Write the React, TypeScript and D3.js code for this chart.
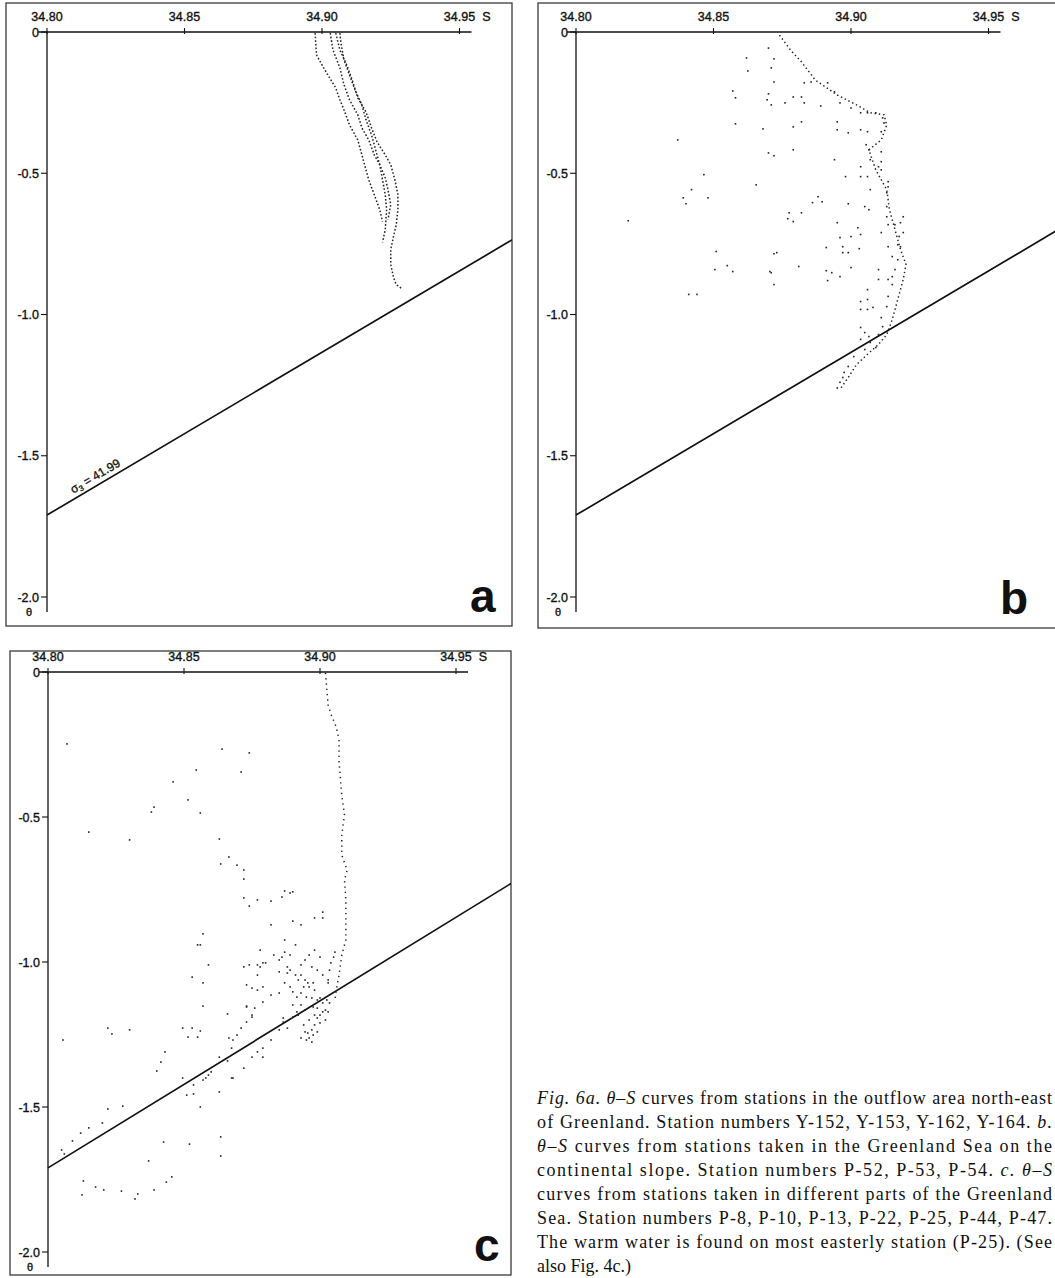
import React from 'react';
import * as d3 from 'd3';

// ---------- axis ticks ----------
const S_TICKS = [34.8, 34.85, 34.9, 34.95];
const S_TICK_LABELS = ['34.80', '34.85', '34.90', '34.95'];
const THETA_TICKS = [0, -0.5, -1.0, -1.5, -2.0];
const THETA_TICK_LABELS = ['0', '-0.5', '-1.0', '-1.5', '-2.0'];
const SIGMA3_VALUE = '41.99';
const SIGMA3_LINE: [number, number][] = [[34.8, -1.71], [34.98, -0.673]];

// ---------- panel a : stations Y-152, Y-153, Y-162, Y-164 ----------
const A_Y152: [number, number][] = [[34.8975,-0.004],[34.898,-0.081],[34.901,-0.134],[34.905,-0.198],[34.9065,-0.240],[34.908,-0.276],[34.910,-0.329],[34.913,-0.382],[34.9145,-0.435],[34.916,-0.488],[34.917,-0.523],[34.919,-0.576],[34.921,-0.629],[34.922,-0.671]];
const A_Y153: [number, number][] = [[34.903,-0.004],[34.904,-0.064],[34.9065,-0.127],[34.908,-0.187],[34.910,-0.240],[34.913,-0.293],[34.9145,-0.339],[34.917,-0.382],[34.919,-0.435],[34.921,-0.470],[34.923,-0.516],[34.924,-0.558],[34.925,-0.611],[34.924,-0.664]];
const A_Y162: [number, number][] = [[34.905,-0.004],[34.9065,-0.064],[34.909,-0.117],[34.911,-0.170],[34.913,-0.233],[34.916,-0.283],[34.918,-0.339],[34.920,-0.389],[34.923,-0.435],[34.925,-0.470],[34.9265,-0.523],[34.9276,-0.576],[34.9276,-0.629],[34.927,-0.682],[34.926,-0.724],[34.925,-0.770],[34.925,-0.823],[34.926,-0.869],[34.927,-0.894],[34.929,-0.908]];
const A_Y164: [number, number][] = [[34.9065,-0.004],[34.907,-0.046],[34.908,-0.099],[34.910,-0.152],[34.912,-0.205],[34.9145,-0.258],[34.916,-0.311],[34.918,-0.364],[34.9195,-0.417],[34.921,-0.470],[34.922,-0.523],[34.923,-0.576],[34.9235,-0.629],[34.923,-0.700],[34.922,-0.745]];

// ---------- panel b : stations P-52, P-53, P-54 ----------
const B_MAIN: [number, number][] = [[34.874,-0.011],[34.878,-0.064],[34.882,-0.106],[34.887,-0.170],[34.895,-0.223],[34.902,-0.258],[34.907,-0.286],[34.912,-0.293],[34.913,-0.329],[34.911,-0.382],[34.9065,-0.417],[34.909,-0.488],[34.913,-0.558],[34.914,-0.629],[34.916,-0.700],[34.918,-0.770],[34.920,-0.823],[34.919,-0.876],[34.917,-0.947],[34.915,-1.018],[34.913,-1.071],[34.910,-1.106],[34.906,-1.141],[34.902,-1.177],[34.899,-1.223],[34.896,-1.265]];
const B_POINTS: [number, number][] = [
  [34.870,-0.057],[34.872,-0.095],[34.862,-0.092],[34.8625,-0.138],[34.871,-0.127],[34.872,-0.177],[34.857,-0.209],[34.858,-0.233],[34.870,-0.219],[34.871,-0.258],
  [34.858,-0.325],[34.868,-0.343],[34.837,-0.382],[34.870,-0.428],[34.872,-0.438],[34.8465,-0.505],[34.8655,-0.541],[34.842,-0.558],[34.848,-0.587],[34.839,-0.587],
  [34.840,-0.608],[34.819,-0.668],[34.851,-0.777],[34.872,-0.785],[34.855,-0.827],[34.857,-0.848],[34.8505,-0.841],[34.871,-0.852],[34.841,-0.929],[34.844,-0.929],
  [34.883,-0.180],[34.8855,-0.177],[34.8915,-0.180],[34.894,-0.212],[34.896,-0.251],[34.900,-0.269],[34.9035,-0.286],[34.906,-0.286],[34.909,-0.286],[34.9115,-0.304],
  [34.912,-0.322],[34.879,-0.230],[34.882,-0.230],[34.876,-0.251],[34.883,-0.251],[34.889,-0.262],[34.8695,-0.240],[34.882,-0.318],[34.879,-0.336],[34.895,-0.318],
  [34.895,-0.346],[34.899,-0.357],[34.9035,-0.346],[34.906,-0.353],[34.911,-0.353],[34.9055,-0.399],[34.9065,-0.417],[34.911,-0.424],[34.907,-0.452],[34.911,-0.459],
  [34.9035,-0.477],[34.910,-0.477],[34.911,-0.488],[34.9035,-0.512],[34.906,-0.512],[34.9135,-0.530],[34.9135,-0.548],[34.907,-0.558],[34.913,-0.569],[34.879,-0.417],
  [34.894,-0.452],[34.898,-0.512],[34.888,-0.583],[34.886,-0.604],[34.8895,-0.601],[34.899,-0.608],[34.8775,-0.640],[34.882,-0.640],[34.877,-0.661],[34.879,-0.671],
  [34.895,-0.675],[34.9025,-0.693],[34.905,-0.618],[34.9065,-0.629],[34.913,-0.618],[34.913,-0.654],[34.919,-0.654],[34.918,-0.675],[34.9135,-0.682],[34.916,-0.682],
  [34.919,-0.710],[34.9175,-0.724],[34.896,-0.728],[34.900,-0.724],[34.9035,-0.717],[34.911,-0.710],[34.897,-0.760],[34.897,-0.781],[34.899,-0.781],[34.891,-0.763],
  [34.903,-0.767],[34.917,-0.753],[34.918,-0.760],[34.9135,-0.760],[34.915,-0.795],[34.917,-0.806],[34.873,-0.781],[34.881,-0.830],[34.8705,-0.848],[34.872,-0.894],
  [34.891,-0.845],[34.893,-0.852],[34.896,-0.866],[34.8915,-0.880],[34.900,-0.834],[34.910,-0.841],[34.916,-0.841],[34.915,-0.866],[34.9135,-0.876],[34.915,-0.894],
  [34.910,-0.876],[34.906,-0.912],[34.9035,-0.954],[34.906,-0.947],[34.9135,-0.936],[34.9035,-0.982],[34.906,-0.982],[34.908,-0.975],[34.913,-0.972],[34.911,-1.011],
  [34.9115,-1.043],[34.9035,-1.046],[34.905,-1.064],[34.9065,-1.078],[34.910,-1.071],[34.9035,-1.088],[34.907,-1.099],[34.909,-1.117],[34.905,-1.124],[34.901,-1.149],
  [34.899,-1.184],[34.8975,-1.205],[34.897,-1.223],[34.896,-1.240],[34.895,-1.260]
];

// ---------- panel c : stations P-8, P-10, P-13, P-22, P-25, P-44, P-47 ----------
const C_COLUMN: [number, number][] = [[34.902,-0.003],[34.903,-0.114],[34.904,-0.145],[34.906,-0.190],[34.907,-0.234],[34.907,-0.310],[34.908,-0.424],[34.909,-0.493],[34.908,-0.562],[34.908,-0.631],[34.910,-0.683],[34.909,-0.717],[34.9095,-0.786],[34.9095,-0.855],[34.9095,-0.924],[34.908,-0.976],[34.907,-1.045],[34.906,-1.096],[34.9055,-1.131]];
const C_UPPER: [number, number][] = [
  [34.864,-0.266],[34.874,-0.279],[34.8545,-0.338],[34.871,-0.345],[34.846,-0.379],[34.8515,-0.441],[34.839,-0.466],[34.838,-0.483],[34.856,-0.486],[34.830,-0.579],
  [34.863,-0.576],[34.8665,-0.638],[34.8635,-0.662],[34.8695,-0.666],[34.872,-0.683],[34.872,-0.714],[34.872,-0.779],[34.874,-0.807],[34.877,-0.786],[34.882,-0.790],
  [34.886,-0.776],[34.887,-0.755],[34.889,-0.762],[34.890,-0.758],[34.882,-0.872],[34.890,-0.859],[34.893,-0.872],[34.898,-0.848],[34.901,-0.848],[34.901,-0.828],
  [34.857,-0.903],[34.855,-0.941],[34.856,-0.941],[34.859,-1.010],[34.853,-1.052],[34.857,-1.072],[34.873,-1.079],[34.877,-1.045],[34.878,-1.017],[34.878,-0.959],
  [34.885,-0.993],[34.887,-0.966],[34.888,-1.038],[34.807,-0.248],[34.815,-0.552]
];
const C_CLUSTER: [number, number][] = [
  [34.893,-1.045],[34.8945,-1.062],[34.8955,-1.072],[34.894,-1.086],[34.896,-1.086],[34.8975,-1.072],[34.898,-1.097],[34.893,-1.107],[34.895,-1.121],[34.897,-1.124],
  [34.899,-1.131],[34.900,-1.124],[34.901,-1.141],[34.9025,-1.131],[34.8915,-1.121],[34.890,-1.103],[34.889,-1.086],[34.887,-1.072],[34.8975,-1.155],[34.899,-1.159],
  [34.901,-1.172],[34.902,-1.166],[34.898,-1.183],[34.899,-1.193],[34.900,-1.210],[34.898,-1.217],[34.897,-1.234],[34.8955,-1.245],[34.896,-1.262],[34.895,-1.269],
  [34.893,-1.262],[34.897,-1.276],[34.8945,-1.241],[34.8975,-1.252],[34.899,-1.241],[34.903,-1.072],[34.903,-1.062],[34.9035,-1.028],[34.904,-1.003],[34.905,-0.983],
  [34.9055,-0.966],[34.893,-1.148],[34.8945,-1.166],[34.896,-1.200],[34.894,-1.217],[34.900,-1.183],[34.902,-1.200],[34.892,-1.183],[34.890,-1.148],[34.892,-1.062],
  [34.891,-1.045],[34.9035,-1.141],[34.903,-1.172],[34.896,-0.976],[34.898,-0.959],[34.900,-0.983],[34.8945,-0.993],[34.893,-1.010],[34.897,-1.017],[34.899,-1.028],
  [34.901,-1.045],[34.889,-0.976],[34.891,-0.941],[34.887,-0.924]
];
const C_LOWER: [number, number][] = [
  [34.872,-1.017],[34.874,-1.010],[34.877,-1.010],[34.879,-1.003],[34.880,-1.003],[34.883,-0.976],[34.886,-0.983],[34.888,-1.017],[34.889,-1.028],[34.885,-1.034],
  [34.879,-1.086],[34.875,-1.090],[34.877,-1.097],[34.882,-1.114],[34.885,-1.107],[34.879,-1.138],[34.873,-1.155],[34.876,-1.159],[34.8915,-1.172],[34.8865,-1.193],
  [34.890,-1.190],[34.875,-1.183],[34.873,-1.207],[34.871,-1.228],[34.8695,-1.252],[34.868,-1.269],[34.8865,-1.207],[34.888,-1.228],[34.885,-1.234],[34.882,-1.269],
  [34.879,-1.297],[34.877,-1.310],[34.875,-1.328],[34.879,-1.328],[34.872,-1.366],[34.868,-1.400],
  [34.8055,-1.269],[34.822,-1.228],[34.830,-1.234],[34.8235,-1.248],[34.857,-1.152],[34.8495,-1.228],[34.853,-1.228],[34.856,-1.238],[34.8515,-1.259],[34.855,-1.259],
  [34.8665,-1.262],[34.873,-1.152],[34.875,-1.190],[34.866,-1.179],[34.843,-1.310],[34.8415,-1.345],[34.840,-1.376],[34.8675,-1.297],[34.866,-1.341],[34.863,-1.328],
  [34.8675,-1.400],[34.8495,-1.400],[34.8535,-1.424],[34.857,-1.407],[34.858,-1.400],[34.859,-1.390],[34.860,-1.379],[34.851,-1.459],[34.8535,-1.455],[34.856,-1.500],
  [34.863,-1.448],[34.822,-1.507],[34.8275,-1.497],[34.820,-1.555],[34.812,-1.590],[34.815,-1.572],[34.809,-1.617],[34.805,-1.648],[34.806,-1.662],[34.8635,-1.603],
  [34.8425,-1.621],[34.852,-1.628],[34.8635,-1.669],[34.837,-1.686],[34.8455,-1.741],[34.8435,-1.759],[34.839,-1.786],[34.833,-1.800],[34.832,-1.817],[34.827,-1.790],
  [34.8205,-1.786],[34.8175,-1.776],[34.813,-1.755],[34.8125,-1.803]
];

// ---------- caption ----------
type Seg = { t: string; i?: boolean };
const CAPTION_LINES: Seg[][] = [
  [{ t: 'Fig. 6a.', i: true }, { t: ' ' }, { t: 'θ–S', i: true }, { t: ' curves from stations in the outflow area north-east' }],
  [{ t: 'of Greenland. Station numbers Y-152, Y-153, Y-162, Y-164. ' }, { t: 'b.', i: true }],
  [{ t: 'θ–S', i: true }, { t: ' curves from stations taken in the Greenland Sea on the' }],
  [{ t: 'continental slope. Station numbers P-52, P-53, P-54. ' }, { t: 'c.', i: true }, { t: ' ' }, { t: 'θ–S', i: true }],
  [{ t: 'curves from stations taken in different parts of the Greenland' }],
  [{ t: 'Sea. Station numbers P-8, P-10, P-13, P-22, P-25, P-44, P-47.' }],
  [{ t: 'The warm water is found on most easterly station (P-25). (See' }],
  [{ t: 'also Fig. 4c.)' }],
];

type PanelSpec = {
  letter: string;
  frame: [number, number, number, number];
  sRange: [number, number];
  tRange: [number, number];
  paths: [number, number][][];
  points: [number, number][];
  dash: string;
  sigmaLabel?: boolean;
};

const PANELS: PanelSpec[] = [
  { letter: 'a', frame: [6, 3, 512, 626], sRange: [47, 459.5], tRange: [32, 597], paths: [A_Y152, A_Y153, A_Y162, A_Y164], points: [], dash: '1.6 2', sigmaLabel: true },
  { letter: 'b', frame: [538, 3, 1070, 628], sRange: [576, 988.5], tRange: [32, 597], paths: [B_MAIN], points: B_POINTS, dash: '1.4 2.8' },
  { letter: 'c', frame: [10, 651, 511, 1275], sRange: [48, 456], tRange: [672, 1252], paths: [C_COLUMN], points: [...C_UPPER, ...C_CLUSTER, ...C_LOWER], dash: '1.3 4' },
];

const AXIS_FONT = "'Liberation Sans', Arial, sans-serif";

function AxisText(props: any) {
  return <text fontFamily={AXIS_FONT} fontSize={12.5} fill="#111" stroke="#111" strokeWidth={0.35} {...props} />;
}

function Panel({ p }: { p: PanelSpec }) {
  const sx = d3.scaleLinear().domain([34.8, 34.95]).range(p.sRange);
  const ty = d3.scaleLinear().domain([0, -2.0]).range(p.tRange);
  const [fx0, fy0, fx1, fy1] = p.frame;
  const ax = sx(34.8);
  const ay = ty(0);
  const line = d3.line<[number, number]>().x(d => sx(d[0])).y(d => ty(d[1]));
  const clipId = 'clip-' + p.letter;
  const x1 = sx(SIGMA3_LINE[0][0]), y1 = ty(SIGMA3_LINE[0][1]);
  const x2 = sx(SIGMA3_LINE[1][0]), y2 = ty(SIGMA3_LINE[1][1]);
  const ang = (Math.atan2(y2 - y1, x2 - x1) * 180) / Math.PI;
  const lblS = 34.8105;
  const lblT = SIGMA3_LINE[0][1] + (lblS - SIGMA3_LINE[0][0]) * (SIGMA3_LINE[1][1] - SIGMA3_LINE[0][1]) / (SIGMA3_LINE[1][0] - SIGMA3_LINE[0][0]);
  return (
    <g>
      <defs>
        <clipPath id={clipId}>
          <rect x={fx0} y={fy0} width={fx1 - fx0} height={fy1 - fy0} />
        </clipPath>
      </defs>
      <rect x={fx0} y={fy0} width={fx1 - fx0} height={fy1 - fy0} fill="none" stroke="#3a3a3a" strokeWidth={1.3} />
      {/* x axis */}
      <line x1={ax - 9} x2={sx(34.95) + 12} y1={ay} y2={ay} stroke="#111" strokeWidth={1.3} />
      {S_TICKS.map((s, i) => (
        <g key={'sx' + i}>
          <line x1={sx(s)} x2={sx(s)} y1={ay - 4} y2={ay + 2} stroke="#111" strokeWidth={1.1} />
          <AxisText x={sx(s)} y={ay - 11} textAnchor="middle">{S_TICK_LABELS[i]}</AxisText>
        </g>
      ))}
      <AxisText x={sx(34.95) + 27} y={ay - 11} textAnchor="middle">S</AxisText>
      {/* y axis */}
      <line x1={ax} x2={ax} y1={ay} y2={ty(-2.0) + 15} stroke="#111" strokeWidth={1.3} />
      {THETA_TICKS.map((t, i) => (
        <g key={'ty' + i}>
          <line x1={ax - 6} x2={ax} y1={ty(t)} y2={ty(t)} stroke="#111" strokeWidth={1.1} />
          <AxisText x={ax - 8} y={ty(t) + 4.5} textAnchor="end">{THETA_TICK_LABELS[i]}</AxisText>
        </g>
      ))}
      <AxisText x={ax - 18} y={ty(-2.0) + 19} textAnchor="middle" fontSize={11}>θ</AxisText>
      {/* sigma3 line */}
      <g clipPath={`url(#${clipId})`}>
        <line x1={x1} y1={y1} x2={x2} y2={y2} stroke="#111" strokeWidth={1.7} />
      </g>
      {p.sigmaLabel && (
        <text transform={`translate(${sx(lblS)},${ty(lblT)}) rotate(${ang}) translate(0,-5)`} fontFamily={AXIS_FONT} fontSize={12} fill="#111" stroke="#111" strokeWidth={0.3}>
          σ<tspan fontSize={8} dy={2}>3</tspan><tspan dy={-2}> = {SIGMA3_VALUE}</tspan>
        </text>
      )}
      {/* station curves */}
      {p.paths.map((pts, i) => (
        <path key={'p' + i} d={line(pts) || ''} fill="none" stroke="#222" strokeWidth={1.5} strokeDasharray={p.dash} />
      ))}
      {p.points.map((d, i) => (
        <rect key={'pt' + i} x={sx(d[0]) - 0.8} y={ty(d[1]) - 0.8} width={1.6} height={1.6} fill="#222" />
      ))}
      <text x={fx0 + (p.letter === 'b' ? 462 : 464)} y={fy1 - 14} fontFamily={AXIS_FONT} fontSize={46} fontWeight="bold" fill="#111">{p.letter}</text>
    </g>
  );
}

function Caption() {
  const x0 = 537;
  const top = 1104;
  const lh = 24;
  const width = 515;
  return (
    <g fontFamily="'Liberation Serif', 'Times New Roman', serif" fontSize={18} fill="#111">
      {CAPTION_LINES.map((segs, i) => (
        <text key={i} x={x0} y={top + i * lh} {...(i < CAPTION_LINES.length - 1 ? { textLength: width, lengthAdjust: 'spacing' } : {})}>
          {segs.map((s, j) => (
            <tspan key={j} fontStyle={s.i ? 'italic' : 'normal'}>{s.t}</tspan>
          ))}
        </text>
      ))}
    </g>
  );
}

export default function App() {
  return (
    <svg width={1055} height={1278} style={{ position: 'absolute', left: 0, top: 0, background: '#fff' }}>
      <rect x={0} y={0} width={1055} height={1278} fill="#fff" />
      {PANELS.map(p => <Panel key={p.letter} p={p} />)}
      <Caption />
    </svg>
  );
}
